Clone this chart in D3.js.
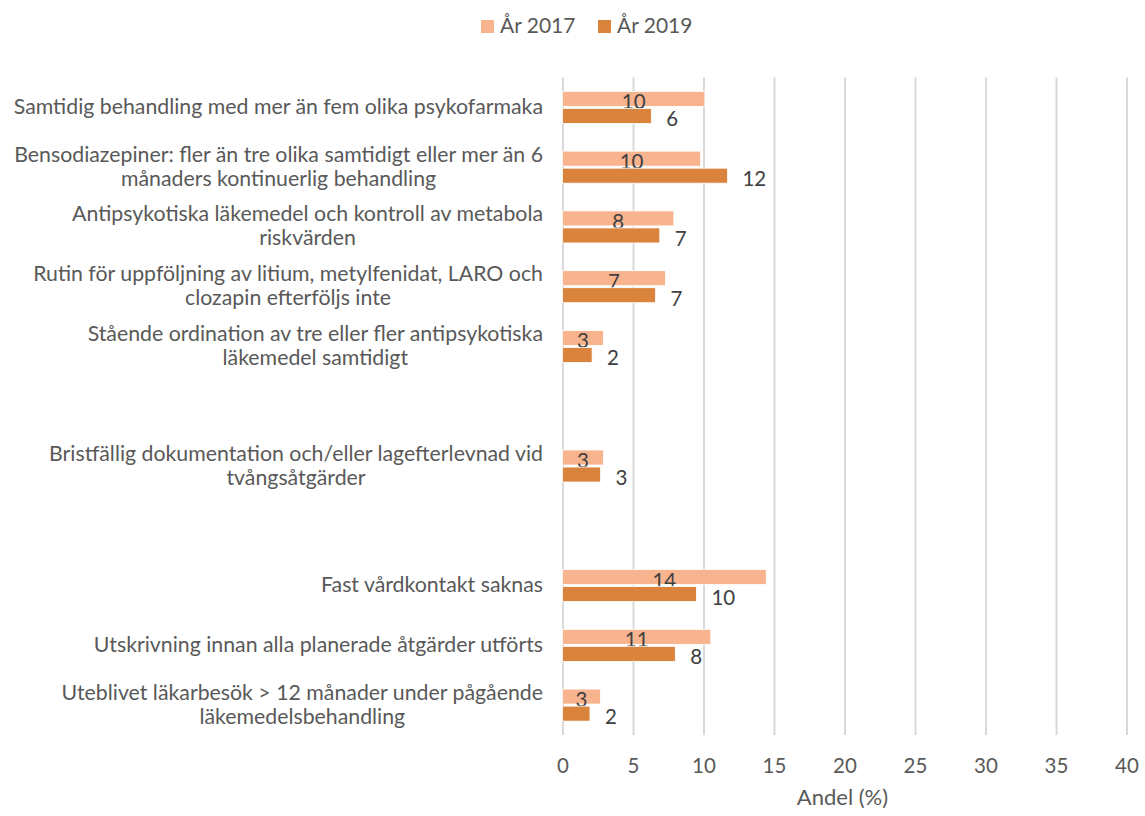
<!DOCTYPE html>
<html>
<head>
<meta charset="utf-8">
<script src="https://cdn.jsdelivr.net/npm/d3@7"></script>
<style>
  body { margin: 0; background: #fff; }
</style>
</head>
<body>
<div id="chart"></div>
<script>
// categories (null = empty slot in the chart), values in percent
const categories = [
    ['Samtidig behandling med mer än fem olika psykofarmaka'],
    ['Bensodiazepiner: fler än tre olika samtidigt eller mer än 6', 'månaders kontinuerlig behandling'],
    ['Antipsykotiska läkemedel och kontroll av metabola', 'riskvärden'],
    ['Rutin för uppföljning av litium, metylfenidat, LARO och', 'clozapin efterföljs inte'],
    ['Stående ordination av tre eller fler antipsykotiska', 'läkemedel samtidigt'],
    null,
    ['Bristfällig dokumentation och/eller lagefterlevnad vid', 'tvångsåtgärder'],
    null,
    ['Fast vårdkontakt saknas'],
    ['Utskrivning innan alla planerade åtgärder utförts'],
    ['Uteblivet läkarbesök > 12 månader under pågående', 'läkemedelsbehandling']
];
const values2017 = [10.1, 9.8, 7.9, 7.3, 2.9, null, 2.9, null, 14.45, 10.52, 2.7];
const values2019 = [6.3, 11.7, 6.9, 6.6, 2.1, null, 2.7, null, 9.5, 8.0, 1.95];
const seriesNames = ['År 2017', 'År 2019'];
const seriesColors = ['#F8B48E', '#DA833D'];
const xTicks = [0, 5, 10, 15, 20, 25, 30, 35, 40];
const xTitle = 'Andel (%)';

const width = 1145, height = 816;
const plotTop = 77.5, plotBottom = 735, plotLeft = 562.5, plotRight = 1126.5;
const textColor = '#595959';
const font = 'Lato, "Open Sans", sans-serif';

const svg = d3.select('#chart').append('svg')
    .attr('width', width)
    .attr('height', height)
    .style('font-family', font);

const x = d3.scaleLinear().domain([0, 40]).range([plotLeft, plotRight]);
const y = d3.scaleBand()
    .domain(d3.range(categories.length))
    .range([plotTop, plotBottom])
    .paddingInner(0.464)
    .paddingOuter(0.232);
const ySub = d3.scaleBand()
    .domain([0, 1])
    .range([0, y.bandwidth()])
    .paddingInner(0.118);

// gridlines
const grid = svg.append('g')
    .attr('transform', `translate(0,${plotBottom})`)
    .call(d3.axisBottom(x).tickValues(xTicks).tickSize(-(plotBottom - plotTop)).tickFormat(''));
grid.select('.domain').remove();
grid.selectAll('line').attr('stroke', '#D9D9D9').attr('stroke-width', 2);

// x tick labels
const axis = svg.append('g')
    .attr('transform', `translate(0,${plotBottom})`)
    .call(d3.axisBottom(x).tickValues(xTicks).tickSize(0).tickFormat(d3.format('d')));
axis.select('.domain').remove();
axis.selectAll('text')
    .attr('y', 38)
    .attr('dy', 0)
    .attr('fill', textColor)
    .style('font-size', '20.5px')
    .style('font-family', font);

svg.append('text')
    .attr('x', (plotLeft + plotRight) / 2 - 2)
    .attr('y', 805)
    .attr('text-anchor', 'middle')
    .attr('fill', textColor)
    .style('font-size', '22px')
    .text(xTitle);

// bars
const series = [values2017, values2019];
const fmt = d3.format('.0f');
series.forEach((vals, s) => {
    const g = svg.append('g');
    const data = vals.map((v, i) => ({ v, i })).filter(d => d.v !== null);
    g.selectAll('rect')
        .data(data)
        .enter()
        .append('rect')
        .attr('x', x(0))
        .attr('y', d => y(d.i) + ySub(s))
        .attr('width', d => x(d.v) - x(0))
        .attr('height', ySub.bandwidth())
        .attr('fill', seriesColors[s])
        .attr('stroke', '#fff')
        .attr('stroke-width', 0.8);

    g.selectAll('text')
        .data(data)
        .enter()
        .append('text')
        .attr('x', d => s === 0 ? (x(0) + x(d.v)) / 2 : x(d.v) + 15)
        .attr('y', d => y(d.i) + ySub(s) + ySub.bandwidth() / 2 + 10.5)
        .attr('text-anchor', s === 0 ? 'middle' : 'start')
        .attr('fill', '#404040')
        .style('font-size', '20.5px')
        .text(d => fmt(d.v));
});

// category labels: block right-aligned, lines centred within block
const labelRight = 543;
const lineH = 24;
categories.forEach((lines, i) => {
    if (!lines) return;
    const cy = y(i) + y.bandwidth() / 2;
    const t = svg.append('text')
        .attr('fill', textColor)
        .style('font-size', '21.3px');
    const spans = lines.map((line, k) => t.append('tspan')
        .attr('y', cy + (k - (lines.length - 1) / 2) * lineH + 6.5)
        .text(line));
    const maxW = d3.max(spans, sp => sp.node().getComputedTextLength());
    spans.forEach(sp => sp.attr('x', labelRight - maxW / 2).attr('text-anchor', 'middle'));
});

// legend
const legend = svg.append('g');
const legendX = [481, 598];
seriesNames.forEach((name, s) => {
    legend.append('rect')
        .attr('x', legendX[s])
        .attr('y', 20)
        .attr('width', 13)
        .attr('height', 13)
        .attr('fill', seriesColors[s]);
    legend.append('text')
        .attr('x', legendX[s] + 19)
        .attr('y', 33)
        .attr('fill', textColor)
        .style('font-size', '21px')
        .text(name);
});
</script>
</body>
</html>
